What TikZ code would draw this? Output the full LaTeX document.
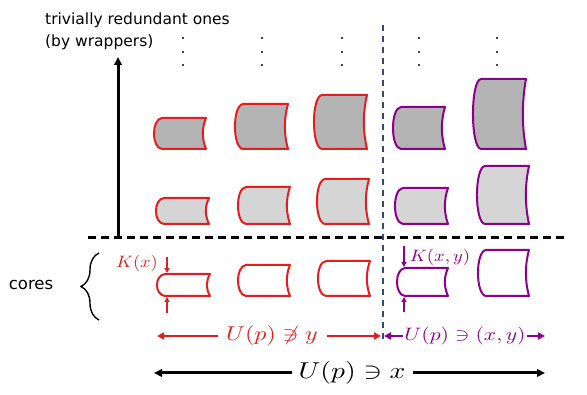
\documentclass[tikz,border=0pt]{standalone}
\usepackage{fontspec}
\newfontfamily\verd{DejaVu Sans}
\usetikzlibrary{arrows.meta,decorations.pathreplacing}
\definecolor{cred}{RGB}{226,30,30}
\definecolor{cpur}{RGB}{140,0,140}
\definecolor{cdark}{RGB}{180,180,180}
\definecolor{clight}{RGB}{213,213,213}
\definecolor{cblue}{RGB}{46,74,122}
\newcommand\cylshape[5]{%
  \draw[#1] (#2+8,#3) -- (#4,#3)
    .. controls (#4-4.2,{#3+(#5-#3)/3}) and (#4-4.2,{#5-(#5-#3)/3}) .. (#4,#5)
    -- (#2+8,#5) .. controls (#2-2.7,#5-1) and (#2-2.7,#3+1) .. cycle;}
\tikzset{
  redcyl/.style={draw=cred,line width=2pt,line join=round},
  purcyl/.style={draw=cpur,line width=2pt,line join=round},
  darkfill/.style={fill=cdark},
  lightfill/.style={fill=clight},
  whitefill/.style={fill=white},
  sanslbl/.style={font=\verd\fontsize{15.5}{22}\selectfont,inner sep=0pt},
  redarr/.style={cred,line width=2.6pt,-{Triangle[length=7pt,width=7pt]}},
  purarr/.style={cpur,line width=2.6pt,-{Triangle[length=7pt,width=7pt]}},
  blkarr/.style={black,line width=3pt,-{Triangle[length=8pt,width=7.5pt]}},
  kred/.style={cred,line width=1.5pt,-{Triangle[length=5pt,width=5pt]}},
  kpur/.style={cpur,line width=1.5pt,-{Triangle[length=5pt,width=5pt]}},
  dotmark/.style={fill=black,draw=none},
  mlbl/.style={inner sep=0pt},
}
\begin{document}
\begin{tikzpicture}[x=1pt,y=-1pt]
\useasboundingbox (0,0) rectangle (587,395);
% texts
\node[sanslbl,anchor=base west] (title1) at (45,25) {trivially redundant ones};
\node[sanslbl,anchor=base west] (title2) at (45,47) {(by wrappers)};
\node[sanslbl,font=\verd\fontsize{16.5}{20}\selectfont] (cores) at (31,285) {cores};
% dots
\foreach \x in {183,262,342,419,497}{
  \foreach \y in {38,52,65}{
    \fill[dotmark] (\x,\y) circle (1.2);
  }
}
% axis arrow
\coordinate (axb) at (118,238);
\coordinate (axt) at (118,57);
\draw[blkarr] (axb) -- (axt);
% dashed separators
\coordinate (hl) at (88,238);
\coordinate (hr) at (565,238);
\draw[black,line width=3pt,dash pattern=on 8pt off 5pt] (hl) -- (hr);
\coordinate (vt) at (383,25);
\coordinate (vb) at (383,343);
\draw[cblue,line width=1.6pt,dash pattern=on 6pt off 5pt] (vt) -- (vb);
% row A
\cylshape{redcyl,darkfill}{154}{118}{206}{149}
\cylshape{redcyl,darkfill}{235}{104}{288}{149}
\cylshape{redcyl,darkfill}{314}{95}{367}{149}
\cylshape{purcyl,darkfill}{393}{107}{445}{149}
\cylshape{purcyl,darkfill}{473}{79}{526}{149}
% row B
\cylshape{redcyl,lightfill}{156}{198}{209}{224}
\cylshape{redcyl,lightfill}{238}{187}{290}{224}
\cylshape{redcyl,lightfill}{317}{179}{369}{224}
\cylshape{purcyl,lightfill}{395}{188}{448}{224}
\cylshape{purcyl,lightfill}{477}{166}{529}{224}
% row C
\cylshape{redcyl,whitefill}{157}{274}{210}{296}
\cylshape{redcyl,whitefill}{238}{265}{290}{296}
\cylshape{redcyl,whitefill}{318}{261}{370}{296}
\cylshape{purcyl,whitefill}{397}{268}{448}{296}
\cylshape{purcyl,whitefill}{478}{250}{529}{296}
% brace
\coordinate (bb) at (99,320);
\coordinate (bt) at (99,253);
\draw[line width=1.4pt,decorate,decoration={brace,amplitude=18pt}] (bb) -- (bt);
% K(x)
\node[mlbl,cred] (kx) at (137,263) {\scalebox{1.84}[1.65]{$K(x)$}};
\coordinate (kx1) at (167,257); \coordinate (kx2) at (167,273);
\coordinate (kx3) at (167,313); \coordinate (kx4) at (167,297);
\draw[kred] (kx1) -- (kx2);
\draw[kred] (kx3) -- (kx4);
% K(x,y)
\node[mlbl,cpur] (kxy) at (440,257) {\scalebox{1.86}[1.65]{$K(x,y)$}};
\coordinate (ky1) at (404,246); \coordinate (ky2) at (404,267);
\coordinate (ky3) at (404,312); \coordinate (ky4) at (404,297);
\draw[kpur] (ky1) -- (ky2);
\draw[kpur] (ky3) -- (ky4);
% red range
\node[mlbl,cred] (ulbl) at (272,336) {\scalebox{2.4}[2.0]{$U(p)\not\ni y$}};
\coordinate (rl1) at (218,336); \coordinate (rl2) at (157,336);
\coordinate (rr1) at (327,336); \coordinate (rr2) at (381,336);
\draw[redarr] (rl1) -- (rl2);
\draw[redarr] (rr1) -- (rr2);
% purple range
\node[mlbl,cpur] (plbl) at (465,336) {\scalebox{2.16}[1.8]{$U(p)\ni(x,y)$}};
\coordinate (pl1) at (403,336); \coordinate (pl2) at (384,336);
\coordinate (pr1) at (527,336); \coordinate (pr2) at (545,336);
\draw[purarr] (pl1) -- (pl2);
\draw[purarr] (pr1) -- (pr2);
% black range
\node[mlbl] (blbl) at (352,373) {\scalebox{2.76}[2.3]{$U(p)\ni x$}};
\coordinate (bl1) at (292,373); \coordinate (bl2) at (154,373);
\coordinate (br1) at (413,373); \coordinate (br2) at (545,373);
\draw[blkarr] (bl1) -- (bl2);
\draw[blkarr] (br1) -- (br2);
\end{tikzpicture}
\end{document}
